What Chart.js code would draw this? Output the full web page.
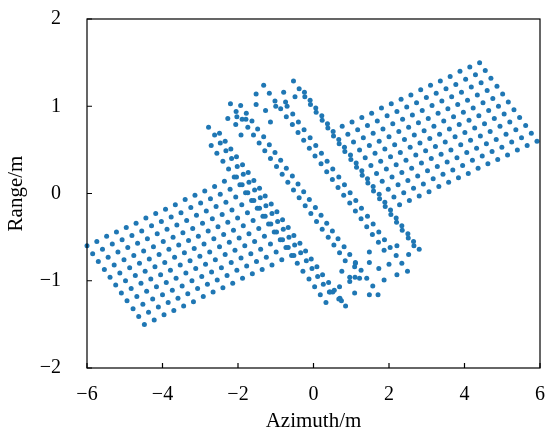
<!DOCTYPE html>
<html>
<head>
<meta charset="utf-8">
<script src="https://cdn.jsdelivr.net/npm/chart.js@4.4.1/dist/chart.umd.min.js"></script>
<style>
  html, body { margin: 0; padding: 0; background: #fff; }
  #scene { display: block; }
</style>
</head>
<body>
<canvas id="scene" width="547" height="430"></canvas>
<script>
// Strip of scatterers, one array per range row (bottom row first), [azimuth, range]
const row0 = [[-4.48,-1.50],[-4.22,-1.45],[-3.96,-1.39],[-3.70,-1.34],[-3.44,-1.29],[-3.18,-1.24],[-2.92,-1.18],[-2.66,-1.13],[-2.40,-1.08],[-2.14,-1.03],[-1.88,-0.97],[-1.62,-0.92],[-1.36,-0.87],[-1.10,-0.82],[-0.84,-0.76],[-0.58,-0.71],
  [2.28,-0.13],[2.54,-0.08],[2.80,-0.03],[3.06,0.02],[3.32,0.08],[3.58,0.13],[3.84,0.18],[4.10,0.23],[4.36,0.29],[4.62,0.34],[4.88,0.39],[5.14,0.44],[5.40,0.50],[5.66,0.55],[5.92,0.60]];
const row1 = [[-4.63,-1.41],[-4.37,-1.36],[-4.11,-1.30],[-3.85,-1.25],[-3.59,-1.20],[-3.33,-1.15],[-3.07,-1.09],[-2.81,-1.04],[-2.55,-0.99],[-2.29,-0.94],[-2.03,-0.88],[-1.77,-0.83],[-1.51,-0.78],[-1.25,-0.73],[-0.99,-0.67],[-0.73,-0.62],
  [2.13,-0.04],[2.39,0.01],[2.65,0.06],[2.91,0.11],[3.17,0.17],[3.43,0.22],[3.69,0.27],[3.95,0.32],[4.21,0.38],[4.47,0.43],[4.73,0.48],[4.99,0.53],[5.25,0.59],[5.51,0.64],[5.77,0.69]];
const row2 = [[-4.78,-1.32],[-4.52,-1.27],[-4.26,-1.21],[-4.00,-1.16],[-3.74,-1.11],[-3.48,-1.06],[-3.22,-1.00],[-2.96,-0.95],[-2.70,-0.90],[-2.44,-0.85],[-2.18,-0.79],[-1.92,-0.74],[-1.66,-0.69],[-1.40,-0.64],[-1.14,-0.58],[-0.88,-0.53],
  [1.98,0.05],[2.24,0.10],[2.50,0.15],[2.76,0.20],[3.02,0.26],[3.28,0.31],[3.54,0.36],[3.80,0.41],[4.06,0.47],[4.32,0.52],[4.58,0.57],[4.84,0.62],[5.10,0.68],[5.36,0.73],[5.62,0.78]];
const row3 = [[-4.94,-1.23],[-4.68,-1.18],[-4.42,-1.12],[-4.16,-1.07],[-3.90,-1.02],[-3.64,-0.97],[-3.38,-0.91],[-3.12,-0.86],[-2.86,-0.81],[-2.60,-0.76],[-2.34,-0.70],[-2.08,-0.65],[-1.82,-0.60],[-1.56,-0.55],[-1.30,-0.49],[-1.04,-0.44],
  [1.82,0.14],[2.08,0.19],[2.34,0.24],[2.60,0.29],[2.86,0.35],[3.12,0.40],[3.38,0.45],[3.64,0.50],[3.90,0.56],[4.16,0.61],[4.42,0.66],[4.68,0.71],[4.94,0.77],[5.20,0.82],[5.46,0.87]];
const row4 = [[-5.09,-1.14],[-4.83,-1.09],[-4.57,-1.03],[-4.31,-0.98],[-4.05,-0.93],[-3.79,-0.88],[-3.53,-0.82],[-3.27,-0.77],[-3.01,-0.72],[-2.75,-0.67],[-2.49,-0.61],[-2.23,-0.56],[-1.97,-0.51],[-1.71,-0.46],[-1.45,-0.40],[-1.19,-0.35],
  [1.67,0.23],[1.93,0.28],[2.19,0.33],[2.45,0.38],[2.71,0.44],[2.97,0.49],[3.23,0.54],[3.49,0.59],[3.75,0.65],[4.01,0.70],[4.27,0.75],[4.53,0.80],[4.79,0.86],[5.05,0.91],[5.31,0.96]];
const row5 = [[-5.24,-1.05],[-4.98,-1.00],[-4.72,-0.94],[-4.46,-0.89],[-4.20,-0.84],[-3.94,-0.79],[-3.68,-0.73],[-3.42,-0.68],[-3.16,-0.63],[-2.90,-0.58],[-2.64,-0.52],[-2.38,-0.47],[-2.12,-0.42],[-1.86,-0.37],[-1.60,-0.31],[-1.34,-0.26],
  [1.52,0.32],[1.78,0.37],[2.04,0.42],[2.30,0.47],[2.56,0.53],[2.82,0.58],[3.08,0.63],[3.34,0.68],[3.60,0.74],[3.86,0.79],[4.12,0.84],[4.38,0.89],[4.64,0.95],[4.90,1.00],[5.16,1.05]];
const row6 = [[-5.39,-0.96],[-5.13,-0.91],[-4.87,-0.85],[-4.61,-0.80],[-4.35,-0.75],[-4.09,-0.70],[-3.83,-0.64],[-3.57,-0.59],[-3.31,-0.54],[-3.05,-0.49],[-2.79,-0.43],[-2.53,-0.38],[-2.27,-0.33],[-2.01,-0.28],[-1.75,-0.22],[-1.49,-0.17],
  [1.37,0.41],[1.63,0.46],[1.89,0.51],[2.15,0.56],[2.41,0.62],[2.67,0.67],[2.93,0.72],[3.19,0.77],[3.45,0.83],[3.71,0.88],[3.97,0.93],[4.23,0.98],[4.49,1.04],[4.75,1.09],[5.01,1.14]];
const row7 = [[-5.54,-0.87],[-5.28,-0.82],[-5.02,-0.76],[-4.76,-0.71],[-4.50,-0.66],[-4.24,-0.61],[-3.98,-0.55],[-3.72,-0.50],[-3.46,-0.45],[-3.20,-0.40],[-2.94,-0.34],[-2.68,-0.29],[-2.42,-0.24],[-2.16,-0.19],[-1.90,-0.13],[-1.64,-0.08],
  [1.22,0.50],[1.48,0.55],[1.74,0.60],[2.00,0.65],[2.26,0.71],[2.52,0.76],[2.78,0.81],[3.04,0.86],[3.30,0.92],[3.56,0.97],[3.82,1.02],[4.08,1.07],[4.34,1.13],[4.60,1.18],[4.86,1.23]];
const row8 = [[-5.70,-0.78],[-5.44,-0.73],[-5.18,-0.67],[-4.92,-0.62],[-4.66,-0.57],[-4.40,-0.52],[-4.14,-0.46],[-3.88,-0.41],[-3.62,-0.36],[-3.36,-0.31],[-3.10,-0.25],[-2.84,-0.20],[-2.58,-0.15],[-2.32,-0.10],[-2.06,-0.04],[-1.80,0.01],
  [1.06,0.59],[1.32,0.64],[1.58,0.69],[1.84,0.74],[2.10,0.80],[2.36,0.85],[2.62,0.90],[2.88,0.95],[3.14,1.01],[3.40,1.06],[3.66,1.11],[3.92,1.16],[4.18,1.22],[4.44,1.27],[4.70,1.32]];
const row9 = [[-5.85,-0.69],[-5.59,-0.64],[-5.33,-0.58],[-5.07,-0.53],[-4.81,-0.48],[-4.55,-0.43],[-4.29,-0.37],[-4.03,-0.32],[-3.77,-0.27],[-3.51,-0.22],[-3.25,-0.16],[-2.99,-0.11],[-2.73,-0.06],[-2.47,-0.01],[-2.21,0.05],[-1.95,0.10],
  [0.91,0.68],[1.17,0.73],[1.43,0.78],[1.69,0.83],[1.95,0.89],[2.21,0.94],[2.47,0.99],[2.73,1.04],[2.99,1.10],[3.25,1.15],[3.51,1.20],[3.77,1.25],[4.03,1.31],[4.29,1.36],[4.55,1.41]];
const row10 = [[-6.00,-0.60],[-5.74,-0.55],[-5.48,-0.49],[-5.22,-0.44],[-4.96,-0.39],[-4.70,-0.34],[-4.44,-0.28],[-4.18,-0.23],[-3.92,-0.18],[-3.66,-0.13],[-3.40,-0.07],[-3.14,-0.02],[-2.88,0.03],[-2.62,0.08],[-2.36,0.14],[-2.10,0.19],
  [0.76,0.77],[1.02,0.82],[1.28,0.87],[1.54,0.92],[1.80,0.98],[2.06,1.03],[2.32,1.08],[2.58,1.13],[2.84,1.19],[3.10,1.24],[3.36,1.29],[3.62,1.34],[3.88,1.40],[4.14,1.45],[4.40,1.50]];

// Middle section: smeared columns running across the strip
const edgeColExtra = [[-2.71,0.55],[-2.56,0.46],[-2.40,0.37],[-2.25,0.28],[-0.43,-0.80],[-0.28,-0.89],[-0.12,-0.98],[0.03,-1.07],[0.18,-1.16],[0.33,-1.25]];
const edgeColTwin = [[-0.52,-0.71],[-0.67,-0.62],[-0.82,-0.53],[-0.98,-0.44],[-1.13,-0.35],[-1.28,-0.26],[-1.43,-0.17],[-1.58,-0.08],[-1.74,0.01],[-1.89,0.10],[-2.04,0.19]];
const wallA = [[-2.78,0.76],[-2.62,0.67],[-2.47,0.58],[-2.32,0.49],[-2.17,0.40],[-2.02,0.31],[-1.86,0.22],[-1.71,0.13],[-1.56,0.04],[-1.41,-0.05],[-1.26,-0.14],[-1.10,-0.23],[-0.95,-0.32],[-0.80,-0.41],[-0.65,-0.50],[-0.50,-0.59],[-0.34,-0.68],[-0.19,-0.77],[-0.04,-0.86],[0.11,-0.95],[0.26,-1.04],[0.42,-1.13]];
const wallB = [[-2.49,0.69],[-2.34,0.60],[-2.19,0.51],[-2.04,0.42],[-1.88,0.33],[-1.73,0.24],[-1.58,0.15],[-1.43,0.06],[-1.28,-0.03],[-1.12,-0.12],[-0.97,-0.21],[-0.82,-0.30],[-0.67,-0.39],[-0.52,-0.48],[-0.36,-0.57],[-0.21,-0.66],[-0.06,-0.75],[0.09,-0.84],[0.24,-0.93],[0.40,-1.02],[0.55,-1.11],[0.70,-1.20],[0.85,-1.29]];
const barA = [[-2.20,1.03],[-2.05,0.94],[-1.89,0.85],[-1.74,0.76],[-1.59,0.67],[-1.44,0.58],[-1.29,0.49],[-1.14,0.40],[-0.98,0.31],[-0.83,0.22],[-0.68,0.13],[-0.53,0.04],[-0.38,-0.05],[-0.22,-0.14],[-0.07,-0.23],[0.08,-0.32],[0.23,-0.41],[0.39,-0.50],[0.54,-0.59],[0.69,-0.68],[0.84,-0.77]];
const barB = [[-1.93,1.01],[-1.78,0.92],[-1.63,0.83],[-1.48,0.74],[-1.32,0.65],[-1.17,0.56],[-1.02,0.47],[-0.87,0.38],[-0.72,0.29],[-0.56,0.20],[-0.41,0.11],[-0.26,0.02],[-0.11,-0.07],[0.05,-0.16],[0.20,-0.25],[0.35,-0.34],[0.50,-0.43],[0.65,-0.52],[0.81,-0.61],[0.96,-0.70],[1.11,-0.79],[1.26,-0.88],[1.41,-0.97],[1.57,-1.06]];
const barC = [[-1.32,1.24],[-1.17,1.15],[-1.02,1.06],[-0.87,0.97],[-0.72,0.88],[-0.56,0.79],[-0.41,0.70],[-0.26,0.61],[-0.11,0.52],[0.04,0.43],[0.20,0.34],[0.35,0.25],[0.50,0.16],[0.65,0.07],[0.80,-0.02],[0.96,-0.11],[1.11,-0.20],[1.26,-0.29],[1.41,-0.38],[1.56,-0.47],[1.72,-0.56],[1.87,-0.65]];
const barD = [[-0.70,1.00],[-0.55,0.91],[-0.40,0.82],[-0.25,0.73],[-0.09,0.64],[0.06,0.55],[0.21,0.46],[0.36,0.37],[0.51,0.28],[0.67,0.19],[0.82,0.10],[0.97,0.01],[1.12,-0.08],[1.27,-0.17],[1.43,-0.26],[1.58,-0.35],[1.73,-0.44],[1.88,-0.53],[2.03,-0.62],[2.19,-0.71],[2.34,-0.80],[2.49,-0.89]];
const wallC = [[-0.53,1.29],[-0.38,1.20],[-0.23,1.11],[-0.08,1.02],[0.07,0.93],[0.23,0.84],[0.38,0.75],[0.53,0.66],[0.68,0.57],[0.83,0.48],[0.99,0.39],[1.14,0.30],[1.29,0.21],[1.44,0.12],[1.59,0.03],[1.75,-0.06],[1.90,-0.15],[2.05,-0.24],[2.20,-0.33],[2.35,-0.42],[2.51,-0.51],[2.66,-0.60]];
const wallD = [[-0.24,1.16],[-0.09,1.07],[0.06,0.98],[0.22,0.89],[0.37,0.80],[0.52,0.71],[0.67,0.62],[0.82,0.53],[0.98,0.44],[1.13,0.35],[1.28,0.26],[1.43,0.17],[1.58,0.08],[1.74,-0.01],[1.89,-0.10],[2.04,-0.19],[2.19,-0.28],[2.34,-0.37],[2.50,-0.46],[2.65,-0.55],[2.80,-0.64]];
const topCap = [[-2.27,0.86],[-2.06,0.79],[-1.92,0.67],[-2.03,0.88],[-1.79,0.85],[-1.52,1.02],[-1.52,1.14],[-1.27,0.95],[-1.14,0.82],[-1.00,1.00],[-0.74,1.05],[-0.79,1.16],[-0.49,1.11]];
const bottomCap = [[0.69,-1.07],[0.96,-1.01],[0.75,-0.89],[0.96,-0.96],[1.22,-0.97],[1.87,-0.99],[2.21,-0.93],[1.73,-0.86],[1.48,-0.79],[1.48,-0.67],[2.00,-0.81],[1.09,-0.84],[1.11,-0.80],[1.09,-1.14],[1.48,-1.16],[1.71,-1.16],[0.51,-1.13],[0.44,-1.13],[0.67,-1.21],[0.74,-1.23],[2.52,-0.70],[2.21,-0.60],[1.10,-0.96]];

const xTicks = [-6, -4, -2, 0, 2, 4, 6];
const yTicks = [-2, -1, 0, 1, 2];

const groups = [row0, row1, row2, row3, row4, row5, row6, row7, row8, row9, row10,
  edgeColExtra, edgeColTwin, wallA, wallB, barA, barB, barC, barD, wallC, wallD, topCap, bottomCap];
const points = groups.flat().map(([x, y]) => ({ x: x, y: y }));

const serif = "'Liberation Serif', 'Times New Roman', serif";
const minusLabel = (v) => (v < 0 ? "\u2212" + Math.abs(v) : String(v));

// box around the plot plus short inward tick marks
const frameAndTicks = {
  id: "frameAndTicks",
  afterDraw(chart) {
    const { ctx, chartArea } = chart;
    const { left, right, top, bottom } = chartArea;
    const xs = chart.scales.x;
    const ys = chart.scales.y;
    ctx.save();
    ctx.strokeStyle = "#000";
    ctx.lineWidth = 1.2;
    ctx.beginPath();
    xs.ticks.forEach((t) => {
      const px = xs.getPixelForValue(t.value);
      ctx.moveTo(px, bottom);
      ctx.lineTo(px, bottom - 5);
    });
    ys.ticks.forEach((t) => {
      const py = ys.getPixelForValue(t.value);
      ctx.moveTo(left, py);
      ctx.lineTo(left + 5, py);
    });
    ctx.stroke();
    ctx.strokeRect(left, top, right - left, bottom - top);
    ctx.restore();
  },
};

const ctx = document.getElementById("scene").getContext("2d");
new Chart(ctx, {
  type: "scatter",
  data: {
    datasets: [
      {
        label: "scatterers",
        data: points,
        pointRadius: 2.5,
        pointHoverRadius: 2.5,
        pointBackgroundColor: "#1f77b4",
        pointBorderWidth: 0,
        clip: false,
      },
    ],
  },
  options: {
    responsive: false,
    animation: false,
    devicePixelRatio: 1,
    layout: { padding: { top: 19, right: 7, left: 0, bottom: 0 } },
    plugins: { legend: { display: false }, tooltip: { enabled: false } },
    scales: {
      x: {
        type: "linear",
        min: -6,
        max: 6,
        afterBuildTicks: (scale) => {
          scale.ticks = xTicks.map((v) => ({ value: v }));
        },
        afterFit: (scale) => {
          // fixed axis band, no extra room for the end labels
          scale.height = 62;
          scale.paddingLeft = 0;
          scale.paddingRight = 0;
        },
        grid: { display: false },
        border: { display: false },
        ticks: {
          color: "#000",
          padding: 7,
          font: { family: serif, size: 20 },
          callback: minusLabel,
        },
        title: {
          display: true,
          text: "Azimuth/m",
          color: "#000",
          font: { family: serif, size: 21, lineHeight: 1 },
          padding: { top: 0, bottom: -2 },
        },
      },
      y: {
        type: "linear",
        min: -2,
        max: 2,
        afterBuildTicks: (scale) => {
          scale.ticks = yTicks.map((v) => ({ value: v }));
        },
        afterFit: (scale) => {
          scale.width = 87;
          scale.paddingTop = 0;
          scale.paddingBottom = 0;
        },
        grid: { display: false },
        border: { display: false },
        ticks: {
          color: "#000",
          padding: 18,
          font: { family: serif, size: 20 },
          callback: minusLabel,
        },
        title: {
          display: true,
          text: "Range/m",
          color: "#000",
          font: { family: serif, size: 21, lineHeight: 1 },
          padding: { top: 6, bottom: 0 },
        },
      },
    },
  },
  plugins: [frameAndTicks],
});
</script>
</body>
</html>
